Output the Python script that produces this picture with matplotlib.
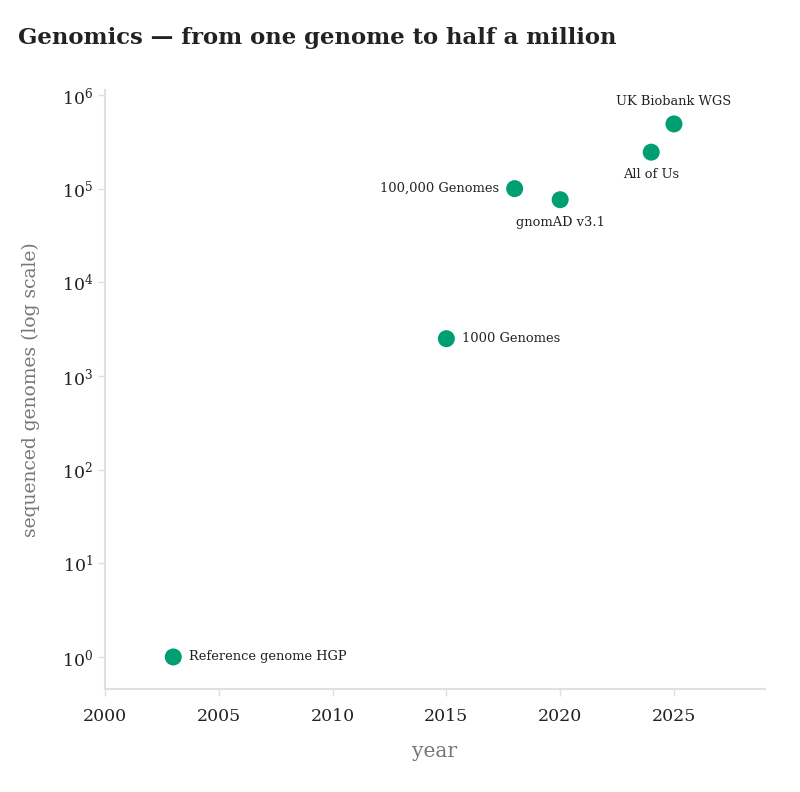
import matplotlib
matplotlib.use("Agg")
import matplotlib.pyplot as plt
from matplotlib.ticker import FixedLocator, LogFormatterSciNotation

years = [2003, 2015, 2018, 2020, 2024, 2025]
genomes = [1, 2500, 100000, 76156, 245000, 490640]
labels = ["Reference genome HGP", "1000 Genomes", "100,000 Genomes",
          "gnomAD v3.1", "All of Us", "UK Biobank WGS"]
# label placement: (dx px, dy px, ha, va)
placements = [(16, 0, "left", "center"), (16, 0, "left", "center"),
              (-16, 0, "right", "center"), (0, -16, "center", "top"),
              (0, -16, "center", "top"), (0, 16, "center", "bottom")]
xticks = [2000, 2005, 2010, 2015, 2020, 2025]
yticks = [1, 10, 100, 1000, 10000, 100000, 1000000]

plt.rcParams['font.family'] = ['DejaVu Serif']
green = "#009E73"
spine_c = "#e0e0e0"

fig = plt.figure(figsize=(8, 7.92), dpi=100)
ax = fig.add_axes([105/800, 1-689/792, 660/800, (689-90)/792])
ax.scatter(years, genomes, s=150, color=green, edgecolors="none", zorder=3)
for x, y, t, (dx, dy, ha, va) in zip(years, genomes, labels, placements):
    ax.annotate(t, (x, y), xytext=(dx, dy), textcoords="offset pixels",
                ha=ha, va=va, fontsize=9.4, color="#222222")

ax.set_yscale("log")
ax.set_xlim(2000, 2029)
ax.set_ylim(10**-0.342, 10**6.053)
ax.xaxis.set_major_locator(FixedLocator(xticks))
ax.yaxis.set_major_locator(FixedLocator(yticks))
ax.yaxis.set_major_formatter(LogFormatterSciNotation())
ax.yaxis.set_minor_locator(plt.NullLocator())
for s in ["top", "right"]:
    ax.spines[s].set_visible(False)
for s in ["left", "bottom"]:
    ax.spines[s].set_color(spine_c)
    ax.spines[s].set_linewidth(1.5)
ax.tick_params(axis="both", colors=spine_c, labelcolor="#222222",
               labelsize=12.5, length=5, width=1)
ax.tick_params(axis="x", pad=9)
ax.set_xlabel("year", fontsize=14.5, color="#777777", labelpad=12)
ax.set_ylabel("sequenced genomes (log scale)", fontsize=13.5, color="#777777", labelpad=16)

fig.text(18/800, 1-38/792, "Genomics — from one genome to half a million",
         fontsize=16.4, fontweight="bold", color="#222222", ha="left", va="center")

fig.savefig("out.png", dpi=100)
